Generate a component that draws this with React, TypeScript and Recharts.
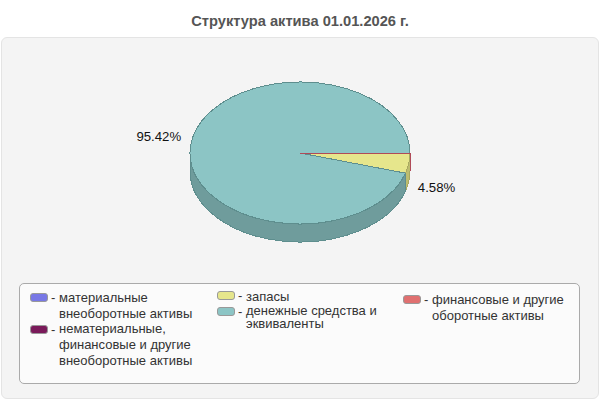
import { PieChart, Pie } from 'recharts'

const categories = [
  'материальные внеоборотные активы',
  'нематериальные, финансовые и другие внеоборотные активы',
  'запасы',
  'денежные средства и эквиваленты',
  'финансовые и другие оборотные активы',
]
const values = [0, 0, 4.58, 95.42, 0]
const colors = ['#7878e6', '#7a1a5a', '#e6e68c', '#8cc5c5', '#e07070']
const wallColors = ['#5f5fb0', '#5a1444', '#bdbd6f', '#6f9c9c', '#b04a58']
const edgeColors = ['#5f5fb0', '#5a1444', '#a8a860', '#5e8e8e', '#b04a58']

const legendLayout = [
  { x: 30, swatchY: 293, textX: 59, lineHeight: 16, textY: 298, lines: ['материальные', 'внеоборотные активы'] },
  { x: 30, swatchY: 325, textX: 59, lineHeight: 16, textY: 329, lines: ['нематериальные,', 'финансовые и другие', 'внеоборотные активы'] },
  { x: 217, swatchY: 291, textX: 246, lineHeight: 13, textY: 296, lines: ['запасы'] },
  { x: 217, swatchY: 307, textX: 246, lineHeight: 13, textY: 310, lines: ['денежные средства и', 'эквиваленты'] },
  { x: 403, swatchY: 295, textX: 432, lineHeight: 16, textY: 300, lines: ['финансовые и другие', 'оборотные активы'] },
]

const chartData = categories.map((name, i) => ({ name, value: values[i], fill: colors[i] }))

const Y_SCALE = 71 / 110
const DEPTH = 18
const RAD = Math.PI / 180

// Recharts only works out the angles, the squashed 3D look is drawn here
function Slice3D(props: any) {
  const { cx, cy, outerRadius, startAngle, endAngle, index } = props
  const rx = outerRadius
  const ry = outerRadius * Y_SCALE
  let t0 = -startAngle
  let t1 = -endAngle
  if (t0 >= 360) {
    t0 -= 360
    t1 -= 360
  }
  const px = (t: number) => cx + rx * Math.cos(t * RAD)
  const py = (t: number) => cy + ry * Math.sin(t * RAD)
  const large = t1 - t0 > 180 ? 1 : 0
  const top = `M${cx} ${cy} L${px(t0)} ${py(t0)} A${rx} ${ry} 0 ${large} 1 ${px(t1)} ${py(t1)} Z`

  let wall = null
  if (t0 <= 180) {
    const w1 = Math.min(t1, 180)
    wall = `M${px(t0)} ${py(t0)} A${rx} ${ry} 0 0 1 ${px(w1)} ${py(w1)} L${px(w1)} ${py(w1) + DEPTH} A${rx} ${ry} 0 0 0 ${px(t0)} ${py(t0) + DEPTH} Z`
  }

  return (
    <g shapeRendering="crispEdges">
      {wall && <path d={wall} fill={wallColors[index]} stroke={edgeColors[index]} />}
      <path d={top} fill={colors[index]} stroke={edgeColors[index]} />
    </g>
  )
}

function SliceLabel(props: any) {
  const { cx, cy, outerRadius, midAngle, value } = props
  if (!value) return null
  const c = Math.cos(-midAngle * RAD)
  const s = Math.sin(-midAngle * RAD)
  const x = cx + outerRadius * c + (c > 0 ? 9 : -10)
  const y = cy + outerRadius * Y_SCALE * s + (s > 0 ? 24 : -6)
  return (
    <text x={x} y={y} textAnchor={c > 0 ? 'start' : 'end'} dominantBaseline="central" fontSize={13.2} fill="#111" fontFamily="Liberation Sans">
      {value.toFixed(2)}%
    </text>
  )
}

export default function App() {
  return (
    <div style={{ position: 'absolute', left: 0, top: 0, width: 600, height: 400, background: '#fff', fontFamily: 'Liberation Sans', overflow: 'hidden' }}>
      <div style={{ position: 'absolute', left: 0, right: 0, top: 13, textAlign: 'center', fontWeight: 'bold', fontSize: 14.67, lineHeight: '17px', color: '#555' }}>
        Структура актива 01.01.2026 г.
      </div>
      <div style={{ position: 'absolute', left: 1, top: 37, width: 596, height: 360, background: '#f4f4f4', border: '1px solid #e4e4e4', borderRadius: 6 }} />
      <div style={{ position: 'absolute', left: 0, top: 0 }}>
        <PieChart width={600} height={400} margin={{ top: 0, right: 0, bottom: 0, left: 0 }}>
          <Pie
            data={chartData}
            dataKey="value"
            nameKey="name"
            cx={300}
            cy={153}
            outerRadius={110}
            startAngle={0}
            endAngle={-360}
            shape={Slice3D}
            label={SliceLabel}
            labelLine={false}
            isAnimationActive={false}
          />
        </PieChart>
      </div>
      <div style={{ position: 'absolute', left: 19, top: 283, width: 559, height: 99, background: '#fbfbfb', border: '1px solid #aaa', borderRadius: 5 }} />
      {legendLayout.map((item, i) => (
        <div key={categories[i]}>
          <div style={{ position: 'absolute', left: item.x, top: item.swatchY, width: 16, height: 7, background: colors[i], border: '1px solid #999', borderRadius: 3 }} />
          <div style={{ position: 'absolute', left: item.textX - 8, top: item.swatchY - 2, fontSize: 13, lineHeight: '13px', color: '#333' }}>-</div>
          <div style={{ position: 'absolute', left: item.textX, top: item.textY - item.lineHeight / 2, fontSize: 13, lineHeight: `${item.lineHeight}px`, color: '#333', whiteSpace: 'pre' }}>
            {item.lines.join('\n')}
          </div>
        </div>
      ))}
    </div>
  )
}
